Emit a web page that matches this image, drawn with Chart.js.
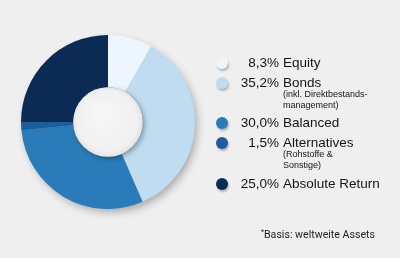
<!DOCTYPE html>
<html>
<head>
<meta charset="utf-8">
<script src="https://cdn.jsdelivr.net/npm/chart.js@4"></script>
<style>
    html, body {
        margin: 0;
        padding: 0;
        background: #efefef;
        width: 400px;
        height: 258px;
        overflow: hidden;
    }
    #wrap {
        position: relative;
        width: 400px;
        height: 258px;
        font-family: "Liberation Sans", Arial, sans-serif;
        color: #141414;
    }
    #chartBox {
        position: absolute;
        left: 0;
        top: 0;
        width: 216px;
        height: 244px;
    }
    .row {
        position: absolute;
        left: 210px;
        height: 16px;
        line-height: 16px;
        font-size: 13.5px;
        white-space: nowrap;
    }
    .marker {
        position: absolute;
        left: 6px;
        top: 2px;
        width: 12px;
        height: 12px;
        border-radius: 50%;
        box-shadow: 1px 2px 2px rgba(0, 0, 0, 0.25);
    }
    .pct {
        position: absolute;
        left: 20px;
        width: 49px;
        text-align: right;
    }
    .name {
        position: absolute;
        left: 73px;
    }
    .sub {
        position: absolute;
        left: 283px;
        font-size: 9px;
        line-height: 10px;
        white-space: nowrap;
    }
    #note {
        position: absolute;
        left: 261px;
        top: 224px;
        font-family: Roboto, "Open Sans", sans-serif;
        font-size: 10.6px;
        line-height: 16px;
        color: #222;
        white-space: nowrap;
    }
    #note sup {
        font-size: 7px;
        vertical-align: 4px;
    }
</style>
</head>
<body>
<div id="wrap">
    <div id="chartBox"><canvas id="chart"></canvas></div>
    <div id="legend"></div>
    <div id="note"><sup>*</sup>Basis: weltweite Assets</div>
</div>
<script>
const categories = ["Equity", "Bonds", "Balanced", "Alternatives", "Absolute Return"];
const shares = [8.3, 35.2, 30.0, 1.5, 25.0];
const subLabels = [[], ["(inkl. Direktbestands-", "management)"], [], ["(Rohstoffe &", "Sonstige)"], []];
const sliceColors = ["#eef6fd", "#bfdcf1", "#2a7bb9", "#1c5d9b", "#0c2b54"];

// legend row centres (y) – layout only
const rowTops = [63, 83, 123, 143, 184];

const fmt = (v) => v.toFixed(1).replace(".", ",") + "%";

const legend = document.getElementById("legend");
categories.forEach((name, i) => {
    const row = document.createElement("div");
    row.className = "row";
    row.style.top = (rowTops[i] - 8) + "px";
    row.innerHTML =
        `<span class="marker" style="background: ${sliceColors[i]}"></span>` +
        `<span class="pct">${fmt(shares[i])}</span><span class="name">${name}</span>`;
    legend.appendChild(row);

    subLabels[i].forEach((line, j) => {
        const sub = document.createElement("div");
        sub.className = "sub";
        sub.style.top = (rowTops[i] + 6 + j * 10.5) + "px";
        sub.textContent = line;
        legend.appendChild(sub);
    });
});

const donutShadow = {
    id: "donutShadow",
    beforeDatasetsDraw(chart) {
        const arc = chart.getDatasetMeta(0).data[0];
        if (!arc) {
            return;
        }
        const { ctx } = chart;
        ctx.save();
        ctx.shadowColor = "rgba(0, 0, 0, 0.3)";
        ctx.shadowBlur = 8;
        ctx.shadowOffsetX = 3;
        ctx.shadowOffsetY = 4;
        ctx.fillStyle = "#8aa";
        ctx.beginPath();
        ctx.arc(arc.x, arc.y, arc.outerRadius - 1, 0, Math.PI * 2);
        ctx.fill();
        ctx.restore();
    },
    afterDatasetsDraw(chart) {
        const arc = chart.getDatasetMeta(0).data[0];
        if (!arc) {
            return;
        }
        const { ctx } = chart;
        const r = arc.innerRadius;
        ctx.save();
        ctx.shadowColor = "rgba(0, 0, 0, 0.3)";
        ctx.shadowBlur = 5;
        ctx.shadowOffsetX = 2;
        ctx.shadowOffsetY = 2;
        const g = ctx.createRadialGradient(arc.x - r * 0.2, arc.y - r * 0.2, r * 0.2, arc.x, arc.y, r);
        g.addColorStop(0, "#f6f6f6");
        g.addColorStop(0.85, "#f0f0f0");
        g.addColorStop(1, "#e4e4e4");
        ctx.fillStyle = g;
        ctx.beginPath();
        ctx.arc(arc.x, arc.y, r, 0, Math.PI * 2);
        ctx.fill();
        ctx.restore();
    }
};

new Chart(document.getElementById("chart"), {
    type: "doughnut",
    data: {
        labels: categories,
        datasets: [
            {
                data: shares,
                backgroundColor: sliceColors,
                borderWidth: 0
            }
        ]
    },
    options: {
        responsive: true,
        maintainAspectRatio: false,
        animation: false,
        cutout: "40%",
        layout: {
            padding: 21
        },
        plugins: {
            legend: {
                display: false
            },
            tooltip: {
                enabled: false
            }
        }
    },
    plugins: [donutShadow]
});
</script>
</body>
</html>
